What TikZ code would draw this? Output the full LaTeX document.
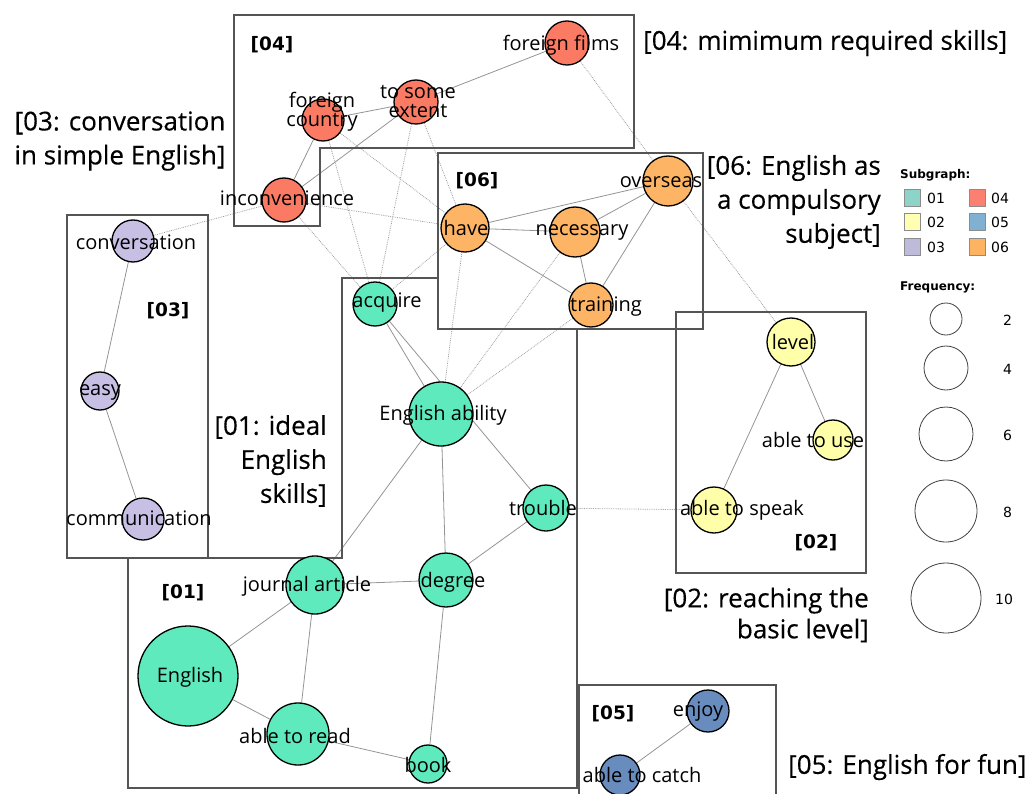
\documentclass[tikz,border=0pt]{standalone}
\usepackage{fontspec}
\setmainfont{Open Sans}
\newfontfamily\legfont{DejaVu Sans}
\newfontfamily\titlefont[FakeBold=0.35]{Open Sans}
\usetikzlibrary{backgrounds}
\definecolor{cA}{RGB}{94,234,189}
\definecolor{cB}{RGB}{255,255,170}
\definecolor{cC}{RGB}{200,192,228}
\definecolor{cD}{RGB}{251,122,100}
\definecolor{cE}{RGB}{105,140,190}
\definecolor{cF}{RGB}{253,180,100}
\definecolor{lA}{RGB}{141,211,199}
\definecolor{lB}{RGB}{255,255,179}
\definecolor{lC}{RGB}{190,186,218}
\definecolor{lD}{RGB}{251,128,114}
\definecolor{lE}{RGB}{128,177,211}
\definecolor{lF}{RGB}{253,180,98}
\definecolor{boxgray}{RGB}{85,85,85}
\tikzset{
  vtx/.style={circle, draw=black, line width=1.3pt, inner sep=0pt},
  wrd/.style={font=\fontsize{20}{19}\selectfont, inner sep=0pt, align=center},
  boxln/.style={draw=boxgray, line width=2.6pt, line join=miter},
  tag/.style={font=\legfont\bfseries\fontsize{18.5}{20}\selectfont, inner sep=0pt},
  big/.style={font=\titlefont\fontsize{26}{34}\selectfont, inner sep=0pt},
  se/.style={draw=black!42, line width=0.8pt},
  de/.style={draw=black!38, line width=0.8pt, densely dotted},
  legc/.style={circle, draw=black!75, line width=0.8pt, inner sep=0pt},
  legsq/.style={draw=black!45, line width=0.6pt, minimum width=16pt, minimum height=17pt, inner sep=0pt},
  legt/.style={font=\legfont\fontsize{14}{15}\selectfont, inner sep=0pt, anchor=west},
  legh/.style={font=\legfont\bfseries\fontsize{12}{14}\selectfont, inner sep=0pt, anchor=west},
}
\begin{document}
\begin{tikzpicture}[x=1pt,y=-1pt]
\useasboundingbox (0,0) rectangle (1032,794);
% boxes
\draw[boxln] (234,15) -- (634,15) -- (634,148) -- (320,148) -- (320,226) -- (234,226) -- cycle;
\draw[boxln] (438,153) rectangle (703,329);
\draw[boxln] (67,215) rectangle (208,558);
\draw[boxln] (342,278) -- (438,278) -- (438,329) -- (577,329) -- (577,788) -- (128,788) -- (128,558) -- (342,558) -- cycle;
\draw[boxln] (676,312) rectangle (866,573);
\draw[boxln] (579,800) -- (579,685) -- (776,685) -- (776,800);
% vertices
\node[vtx, fill=cD, minimum size=44pt] (ff) at (567,43) {};
\node[vtx, fill=cD, minimum size=44pt] (tse) at (416,102) {};
\node[vtx, fill=cD, minimum size=42pt] (fc) at (323,120) {};
\node[vtx, fill=cD, minimum size=44pt] (inc) at (284,200) {};
\node[vtx, fill=cC, minimum size=42pt] (conv) at (133,241) {};
\node[vtx, fill=cC, minimum size=38pt] (easy) at (100,391) {};
\node[vtx, fill=cC, minimum size=42pt] (comm) at (143,519) {};
\node[vtx, fill=cF, minimum size=48pt] (have) at (465,228) {};
\node[vtx, fill=cF, minimum size=50pt] (nec) at (575,232) {};
\node[vtx, fill=cF, minimum size=50pt] (ovs) at (668,181) {};
\node[vtx, fill=cF, minimum size=44pt] (trn) at (591,305) {};
\node[vtx, fill=cA, minimum size=44pt] (acq) at (375,304) {};
\node[vtx, fill=cA, minimum size=64pt] (eab) at (441,414) {};
\node[vtx, fill=cA, minimum size=46pt] (trb) at (546,508) {};
\node[vtx, fill=cA, minimum size=54pt] (deg) at (446,580) {};
\node[vtx, fill=cA, minimum size=58pt] (ja) at (315,585) {};
\node[vtx, fill=cA, minimum size=100pt] (eng) at (188,676) {};
\node[vtx, fill=cA, minimum size=62pt] (atr) at (298,734) {};
\node[vtx, fill=cA, minimum size=38pt] (book) at (428,764) {};
\node[vtx, fill=cB, minimum size=48pt] (lvl) at (791,342) {};
\node[vtx, fill=cB, minimum size=40pt] (atu) at (833,440) {};
\node[vtx, fill=cB, minimum size=46pt] (ats) at (714,510) {};
\node[vtx, fill=cE, minimum size=42pt] (enj) at (708,711) {};
\node[vtx, fill=cE, minimum size=40pt] (atc) at (620,775) {};
% edges
\begin{scope}[on background layer]
\draw[se] (ff) -- (tse);
\draw[se] (tse) -- (fc);
\draw[se] (tse) -- (inc);
\draw[se] (fc) -- (inc);
\draw[se] (conv) -- (easy);
\draw[se] (easy) -- (comm);
\draw[se] (have) -- (ovs);
\draw[se] (have) -- (nec);
\draw[se] (have) -- (trn);
\draw[se] (nec) -- (ovs);
\draw[se] (nec) -- (trn);
\draw[se] (ovs) -- (trn);
\draw[se] (acq) -- (eab);
\draw[se] (acq) -- (trb);
\draw[se] (eab) -- (deg);
\draw[se] (eab) -- (ja);
\draw[se] (trb) -- (deg);
\draw[se] (ja) -- (deg);
\draw[se] (ja) -- (eng);
\draw[se] (ja) -- (atr);
\draw[se] (eng) -- (atr);
\draw[se] (atr) -- (book);
\draw[se] (deg) -- (book);
\draw[se] (lvl) -- (atu);
\draw[se] (lvl) -- (ats);
\draw[se] (enj) -- (atc);
\draw[de] (ff) -- (ovs);
\draw[de] (ovs) -- (lvl);
\draw[de] (tse) -- (acq);
\draw[de] (tse) -- (have);
\draw[de] (fc) -- (acq);
\draw[de] (fc) -- (have);
\draw[de] (inc) -- (have);
\draw[de] (inc) -- (acq);
\draw[de] (inc) -- (conv);
\draw[de] (have) -- (acq);
\draw[de] (have) -- (eab);
\draw[de] (nec) -- (eab);
\draw[de] (trn) -- (eab);
\draw[de] (trb) -- (ats);
\end{scope}
% vertex labels
\node[wrd] (tff) at (561,45) {foreign films};
\node[wrd] (ttse) at (418,102) {to some\\extent};
\node[wrd] (tfc) at (322,112) {foreign\\country};
\node[wrd] (tinc) at (287,198) {inconvenience};
\node[wrd] (tconv) at (136,242) {conversation};
\node[wrd] (teasy) at (100,392) {easy};
\node[wrd] (tcomm) at (139,518) {communication};
\node[wrd] (thave) at (466,228) {have};
\node[wrd] (tnec) at (582,232) {necessary};
\node[wrd] (tovs) at (661,182) {overseas};
\node[wrd] (ttrn) at (606,307) {training};
\node[wrd] (tacq) at (387,303) {acquire};
\node[wrd] (teab) at (443,415) {English ability};
\node[wrd] (ttrb) at (543,508) {trouble};
\node[wrd] (tdeg) at (453,582) {degree};
\node[wrd] (tja) at (307,586) {journal article};
\node[wrd] (teng) at (190,677) {English};
\node[wrd] (tatr) at (295,736) {able to read};
\node[wrd] (tbook) at (428,765) {book};
\node[wrd] (tlvl) at (793,342) {level};
\node[wrd] (tatu) at (813,440) {able to use};
\node[wrd] (tats) at (742,510) {able to speak};
\node[wrd] (tenj) at (698,712) {enjoy};
\node[wrd] (tatc) at (642,775) {able to catch};
% box tags
\node[tag] (g04) at (272,45) {[04]};
\node[tag] (g06) at (477,181) {[06]};
\node[tag] (g03) at (168,311) {[03]};
\node[tag] (g01) at (183,593) {[01]};
\node[tag] (g02) at (816,543) {[02]};
\node[tag] (g05) at (613,714) {[05]};
% titles
\node[big, anchor=west] (h04) at (643,43) {[04: mimimum required skills]};
\node[big, align=center] (h03) at (120,141) {[03: conversation\\in simple English]};
\node[big, align=right, anchor=east] (h06) at (881,202) {[06: English as\\a compulsory\\subject]};
\node[big, align=right, anchor=east] (h01) at (327,461) {[01: ideal\\English\\skills]};
\node[big, align=right, anchor=east, font=\titlefont\fontsize{26}{31}\selectfont] (h02) at (869,615) {[02: reaching the\\basic level]};
\node[big, anchor=west] (h05) at (788,767) {[05: English for fun]};
% legend
\node[legh] (lsub) at (900,175) {Subgraph:};
\node[legsq, fill=lA] (s01) at (912.5,198) {};
\node[legt] (t01) at (927,198) {01};
\node[legsq, fill=lB] (s02) at (912.5,222) {};
\node[legt] (t02) at (927,222) {02};
\node[legsq, fill=lC] (s03) at (912.5,247) {};
\node[legt] (t03) at (927,247) {03};
\node[legsq, fill=lD] (s04) at (977,198) {};
\node[legt] (t04) at (991,198) {04};
\node[legsq, fill=lE] (s05) at (977,222) {};
\node[legt] (t05) at (991,222) {05};
\node[legsq, fill=lF] (s06) at (977,247) {};
\node[legt] (t06) at (991,247) {06};
\node[legh] (lfreq) at (900,287) {Frequency:};
\node[legc, minimum size=32pt] (f2) at (946,319) {};
\node[legc, minimum size=44pt] (f4) at (946,368) {};
\node[legc, minimum size=54pt] (f6) at (946,434) {};
\node[legc, minimum size=62pt] (f8) at (946,511) {};
\node[legc, minimum size=70pt] (f10) at (946,598) {};
\node[legt] (n2) at (1003,320) {2};
\node[legt] (n4) at (1003,369) {4};
\node[legt] (n6) at (1003,435) {6};
\node[legt] (n8) at (1003,512) {8};
\node[legt] (n10) at (995,599) {10};
\end{tikzpicture}
\end{document}
